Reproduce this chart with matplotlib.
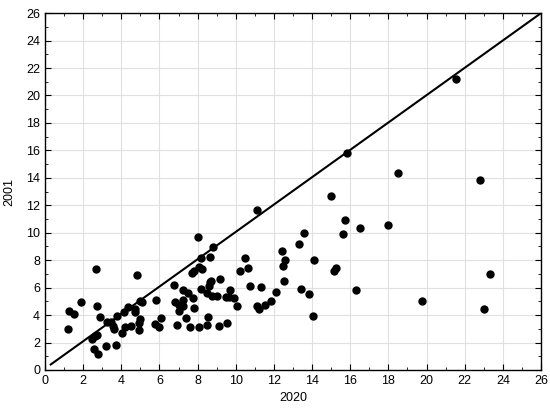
import matplotlib.pyplot as plt
from matplotlib.ticker import MultipleLocator

# values
x2020 = [2.67, 4.8, 1.87, 1.26, 1.5, 1.19, 2.74, 2.9, 3.23, 3.48, 3.55, 3.6, 3.76,
         4.14, 4.37, 4.73, 4.73, 4.98, 5.1, 4.98, 4.91, 4.94, 4.49, 4.17, 4.04, 3.2,
         3.72, 2.45, 2.6, 2.71, 2.57, 2.76, 5.8, 5.77, 5.97, 6.08,
         11.13, 8.02, 8.79, 8.16, 8.65, 10.5, 8.05, 8.23, 7.83, 7.69, 10.22, 10.64,
         9.17, 8.72, 8.65, 8.61, 6.78, 10.74, 11.3, 7.25, 7.51, 8.16, 8.47, 8.74,
         9.03, 9.7, 9.49, 9.63, 9.92, 10.05, 6.8, 7.21, 7.74, 7.04, 7.25, 7.0, 7.81,
         11.09, 11.2, 11.53, 11.85, 6.92, 7.37, 7.62, 8.05, 8.47, 8.56, 9.12, 9.52,
         15.81, 18.5, 14.99, 15.72, 15.62, 16.51, 17.99, 13.59, 13.3, 12.4, 12.6,
         12.46, 14.08, 15.25, 15.16, 12.53, 13.43, 13.82, 16.28, 12.09, 14.03,
         21.56, 22.78, 23.31, 19.76, 22.99]
y2001 = [7.35, 6.9, 4.95, 4.3, 4.05, 2.96, 4.66, 3.83, 3.47, 3.52, 3.2, 2.96, 3.96,
         4.25, 4.61, 4.47, 4.25, 5.05, 4.95, 3.69, 3.42, 2.91, 3.23, 3.13, 2.67, 1.75,
         1.8, 2.23, 2.5, 2.57, 1.5, 1.14, 5.1, 3.33, 3.1, 3.79,
         11.65, 9.71, 8.94, 8.13, 8.2, 8.13, 7.48, 7.38, 7.23, 7.04, 7.23, 7.4,
         6.63, 6.48, 6.39, 6.12, 6.21, 6.12, 6.07, 5.83, 5.61, 5.87, 5.63, 5.39,
         5.39, 5.8, 5.34, 5.32, 5.22, 4.64, 4.98, 5.1, 5.22, 4.73, 4.66, 4.27, 4.52,
         4.66, 4.42, 4.76, 5.0, 3.28, 3.79, 3.15, 3.11, 3.25, 3.84, 3.2, 3.4,
         15.83, 14.33, 12.67, 10.92, 9.93, 10.34, 10.53, 9.95, 9.18, 8.69, 8.01,
         7.55, 7.99, 7.43, 7.23, 6.5, 5.87, 5.53, 5.8, 5.68, 3.96,
         21.17, 13.82, 7.01, 5.05, 4.42]
line_x = [0.3, 26]
line_y = [0.4, 26]

plt.rcParams['font.family'] = ['Liberation Sans', 'DejaVu Sans']

fig = plt.figure(figsize=(5.5, 4.11), dpi=100)
ax = fig.add_axes([0.0818, 0.0998, 0.9018, 0.8682])

ax.plot(line_x, line_y, color='black', lw=1.5, zorder=3)
ax.scatter(x2020, y2001, s=25, color='black', zorder=4)

ax.set_xlim(0, 26)
ax.set_ylim(0, 26)
ax.xaxis.set_major_locator(MultipleLocator(2))
ax.yaxis.set_major_locator(MultipleLocator(2))
ax.xaxis.set_minor_locator(MultipleLocator(1))
ax.yaxis.set_minor_locator(MultipleLocator(1))
ax.grid(True, which='major', color='#e0e0e0', lw=0.8)
ax.set_axisbelow(True)
ax.tick_params(which='both', direction='in', top=True, right=True,
               labelsize=9, colors='black')
ax.tick_params(which='major', length=4)
ax.tick_params(which='minor', length=2)
for sp in ax.spines.values():
    sp.set_linewidth(1.0)

ax.set_xlabel('2020', fontsize=9)
ax.set_ylabel('2001', fontsize=9, labelpad=8)

fig.savefig('out.png', dpi=100)
